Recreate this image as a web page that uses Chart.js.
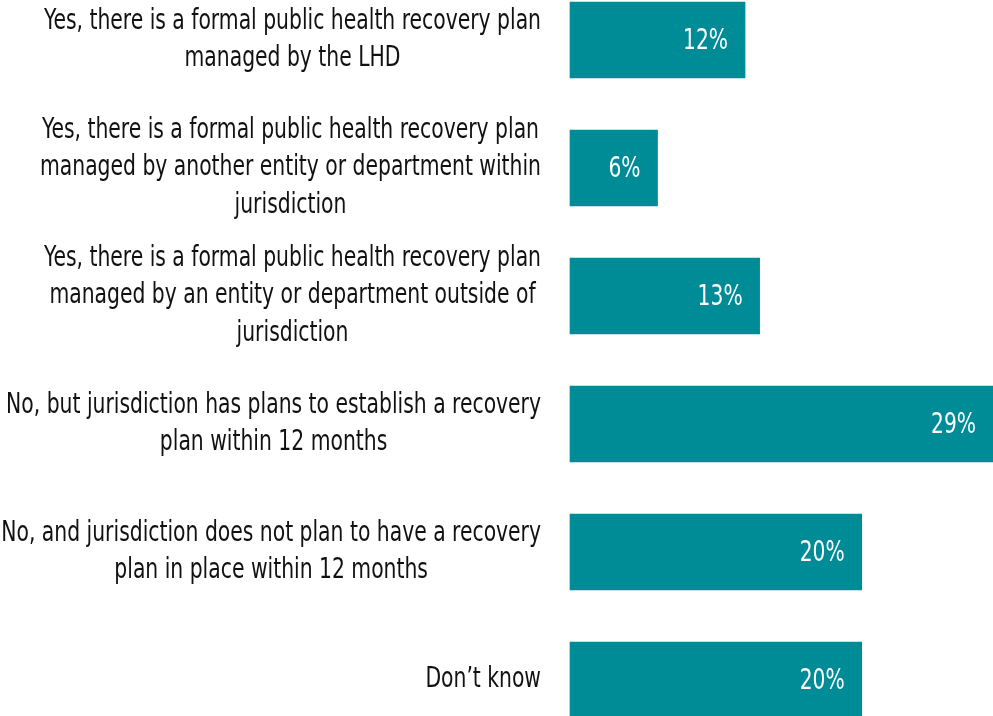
<!DOCTYPE html>
<html>
<head>
<meta charset="utf-8">
<script src="https://cdn.jsdelivr.net/npm/chart.js@4"></script>
<style>
	html, body { margin: 0; padding: 0; background: #fff; }
	#wrap { width: 993px; height: 716px; }
</style>
</head>
<body>
<div id="wrap"><canvas id="planChart"></canvas></div>
<script>
const categories = [
	['Yes, there is a formal public health recovery plan', 'managed by the LHD'],
	['Yes, there is a formal public health recovery plan', 'managed by another entity or department within', 'jurisdiction'],
	['Yes, there is a formal public health recovery plan', 'managed by an entity or department outside of', 'jurisdiction'],
	['No, but jurisdiction has plans to establish a recovery', 'plan within 12 months'],
	['No, and jurisdiction does not plan to have a recovery', 'plan in place within 12 months'],
	['Don\u2019t know']
];
const percents = [12, 6, 13, 29, 20, 20];

const labelFont = "28px 'Liberation Sans Narrow', 'DejaVu Sans Condensed', sans-serif";
const valueFont = "29px 'Liberation Sans Narrow', 'DejaVu Sans Condensed', sans-serif";

// the original uses a condensed face, squeeze the text to get close to it
function squeeze(ctx, text, target) {
	return target / ctx.measureText(text).width;
}

const labelPlugin = {
	id: 'labelPlugin',
	afterDraw(chart) {
		const ctx = chart.ctx;
		const yScale = chart.scales.y;
		ctx.save();
		ctx.font = labelFont;
		ctx.fillStyle = '#111';
		ctx.textAlign = 'center';
		ctx.textBaseline = 'middle';
		const sx = squeeze(ctx, categories[0][0], 497);
		const lineH = 37.5;
		const rightEdge = yScale.right - 29;
		categories.forEach((lines, i) => {
			const y = yScale.getPixelForTick(i);
			const maxW = Math.max(...lines.map(l => ctx.measureText(l).width)) * sx;
			const cx = rightEdge - maxW / 2;
			lines.forEach((l, j) => {
				ctx.save();
				ctx.translate(cx, y + (j - (lines.length - 1) / 2) * lineH);
				ctx.scale(sx, 1);
				ctx.fillText(l, 0, 0);
				ctx.restore();
			});
		});

		ctx.font = valueFont;
		ctx.fillStyle = '#fff';
		ctx.textAlign = 'right';
		const vx = squeeze(ctx, '12%', 45);
		const meta = chart.getDatasetMeta(0);
		meta.data.forEach((bar, i) => {
			ctx.save();
			ctx.translate(bar.x - 17, bar.y + 1);
			ctx.scale(vx, 1);
			ctx.fillText(percents[i] + '%', 0, 0);
			ctx.restore();
		});
		ctx.restore();
	}
};

const ctx = document.getElementById('planChart').getContext('2d');
const planChart = new Chart(ctx, {
	type: 'bar',
	data: {
		labels: categories,
		datasets: [{
			data: percents,
			backgroundColor: '#008c97',
			borderWidth: 0,
			barThickness: 76,
			clip: false
		}]
	},
	options: {
		indexAxis: 'y',
		responsive: true,
		maintainAspectRatio: false,
		animation: false,
		layout: {
			padding: { top: 40, bottom: 36, left: 0, right: 0 }
		},
		plugins: {
			legend: { display: false },
			tooltip: { enabled: false }
		},
		scales: {
			x: {
				display: false,
				min: 0,
				max: 29
			},
			y: {
				offset: false,
				grid: { display: false },
				border: { display: false },
				ticks: { display: false },
				afterFit(scale) {
					scale.width = 570;
				}
			}
		}
	},
	plugins: [labelPlugin]
});
</script>
</body>
</html>
